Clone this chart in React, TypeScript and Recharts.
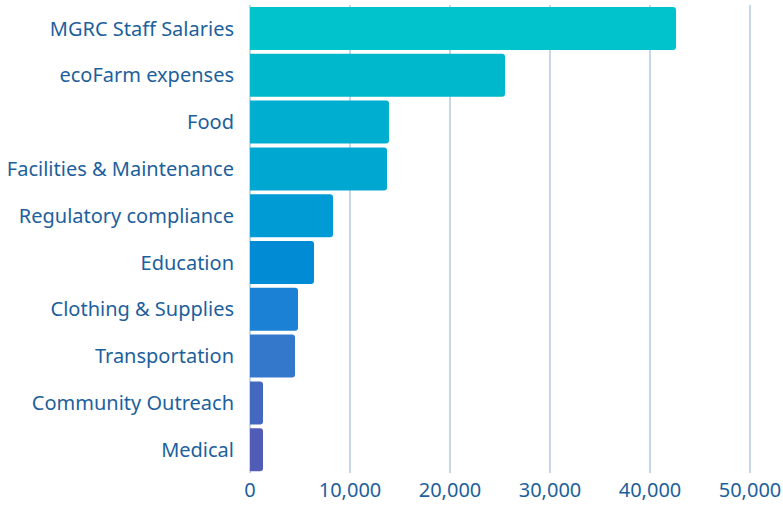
import { BarChart, Bar, XAxis, YAxis, CartesianGrid, Cell } from "recharts"

const categories = [
  "MGRC Staff Salaries",
  "ecoFarm expenses",
  "Food",
  "Facilities & Maintenance",
  "Regulatory compliance",
  "Education",
  "Clothing & Supplies",
  "Transportation",
  "Community Outreach",
  "Medical",
]

const amounts = [42600, 25500, 13900, 13700, 8300, 6400, 4800, 4500, 1300, 1300]

const barColors = [
  "#00C3CC",
  "#00B8CC",
  "#00AECF",
  "#00A7D1",
  "#009BD5",
  "#008BD4",
  "#1A81D4",
  "#3478CC",
  "#4468C0",
  "#505CB6",
]

const xTicks = [0, 10000, 20000, 30000, 40000, 50000]

const data = categories.map((name, i) => ({ name, amount: amounts[i] }))

const textColor = "#1D5F9C"
const font = "'Noto Sans', sans-serif"

export default function App() {
  return (
    <div style={{ position: "absolute", left: 0, top: 0, fontFamily: font }}>
      <BarChart
        width={783}
        height={505}
        data={data}
        layout="vertical"
        margin={{ top: 5, right: 33, left: 0, bottom: 0 }}
        barCategoryGap={2}
      >
        <CartesianGrid horizontal={false} stroke="#C6D7E8" strokeWidth={2} />
        <XAxis
          type="number"
          domain={[0, 50000]}
          ticks={xTicks}
          tickFormatter={(v: number) => v.toLocaleString("en-US")}
          axisLine={false}
          tickLine={false}
          tickSize={0}
          tickMargin={10}
          height={32}
          tick={{ fill: textColor, fontSize: 20, fontFamily: font }}
        />
        <YAxis
          type="category"
          dataKey="name"
          width={250}
          axisLine={false}
          tickLine={false}
          tickSize={0}
          tickMargin={16}
          interval={0}
          tick={{ fill: textColor, fontSize: 20, fontFamily: font }}
        />
        <Bar dataKey="amount" radius={[0, 3, 3, 0]} isAnimationActive={false}>
          {data.map((d, i) => (
            <Cell key={d.name} fill={barColors[i]} />
          ))}
        </Bar>
      </BarChart>
    </div>
  )
}
